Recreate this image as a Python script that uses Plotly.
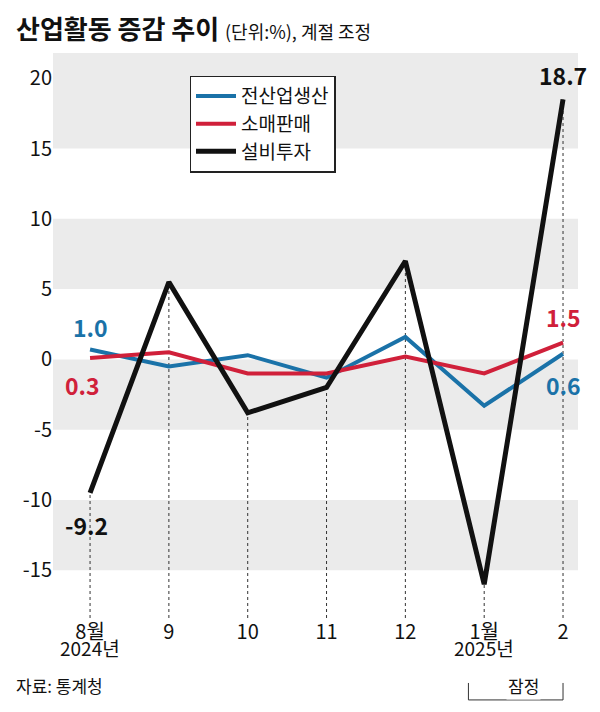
import plotly.graph_objects as go

months = ["8월", "9", "10", "11", "12", "1월", "2"]
production = [0.7, -0.5, 0.3, -1.3, 1.6, -3.3, 0.4]
retail = [0.1, 0.5, -1.0, -1.0, 0.2, -1.0, 1.2]
investment = [-9.5, 5.5, -3.8, -2.0, 7.0, -16.0, 18.5]
yticks = [20, 15, 10, 5, 0, -5, -10, -15]
BLUE, RED, BLACK = "#1a72a8", "#d0203a", "#111111"

x = list(range(len(months)))
fig = go.Figure()
for lo, hi in [(15, 21.8), (5, 10), (-5, 0), (-15, -10)]:
    fig.add_shape(type="rect", xref="paper", x0=0, x1=1, y0=lo, y1=hi,
                  fillcolor="#ebebeb", line_width=0, layer="below")
for xi, v in zip(x, investment):
    fig.add_shape(type="line", x0=xi, x1=xi, y0=-18.4, y1=v,
                  line=dict(color="#333", width=1, dash="dot"), layer="below")
fig.add_trace(go.Scatter(x=x, y=production, name="전산업생산", mode="lines", line=dict(color=BLUE, width=4)))
fig.add_trace(go.Scatter(x=x, y=retail, name="소매판매", mode="lines", line=dict(color=RED, width=4)))
fig.add_trace(go.Scatter(x=x, y=investment, name="설비투자", mode="lines", line=dict(color=BLACK, width=5)))

f = "Noto Sans CJK KR"
anns = [(0, 2.3, "1.0", BLUE), (-0.1, -1.8, "0.3", RED), (-0.05, -11.8, "-9.2", BLACK),
        (6, 20.2, "18.7", BLACK), (6, 3.0, "1.5", RED), (6, -1.8, "0.6", BLUE)]
for ax_, ay_, t, c in anns:
    fig.add_annotation(x=ax_, y=ay_, text=f"<b>{t}</b>", showarrow=False,
                       font=dict(size=23, color=c, family=f))
fig.add_annotation(xref="paper", yref="paper", x=-0.075, y=1.045, xanchor="left", yanchor="middle",
                   showarrow=False,
                   text="<b>산업활동 증감 추이</b> <span style='font-size:18px'>(단위:%), 계절 조정</span>",
                   font=dict(size=26, color="#111", family=f))
fig.add_annotation(x=0, yref="paper", y=-0.08, text="2024년", showarrow=False, font=dict(size=19, color="#111", family=f))
fig.add_annotation(x=5, yref="paper", y=-0.08, text="2025년", showarrow=False, font=dict(size=19, color="#111", family=f))
fig.add_annotation(x=5.5, yref="paper", y=-0.145, text="잠정", showarrow=False, bgcolor="white",
                   font=dict(size=17, color="#111", family=f))
fig.add_shape(type="path", yref="paper", path="M 4.8,-0.115 L 4.8,-0.145 L 6.0,-0.145 L 6.0,-0.115",
              line=dict(color="#333", width=1), layer="below")
fig.add_annotation(xref="paper", yref="paper", x=-0.075, y=-0.145, xanchor="left", showarrow=False,
                   text="자료: 통계청", font=dict(size=17, color="#111", family=f))

fig.update_layout(
    width=600, height=712, margin=dict(l=45, r=30, t=45, b=102),
    plot_bgcolor="white", paper_bgcolor="white", font=dict(family=f),
    legend=dict(x=0.26, y=0.96, xanchor="left", yanchor="top", bordercolor="#222", borderwidth=1.5,
                bgcolor="white", font=dict(size=19, color="#111"), itemwidth=40),
    xaxis=dict(tickvals=x, ticktext=months, range=[-0.47, 6.19], showgrid=False, zeroline=False,
               tickfont=dict(size=20, color="#111"), ticks="", showline=False),
    yaxis=dict(tickvals=yticks, ticktext=[str(v) for v in yticks], range=[-18.4, 21.8], showgrid=False,
               zeroline=False, tickfont=dict(size=20, color="#111"), ticks=""),
)
fig.write_html("out.html")
